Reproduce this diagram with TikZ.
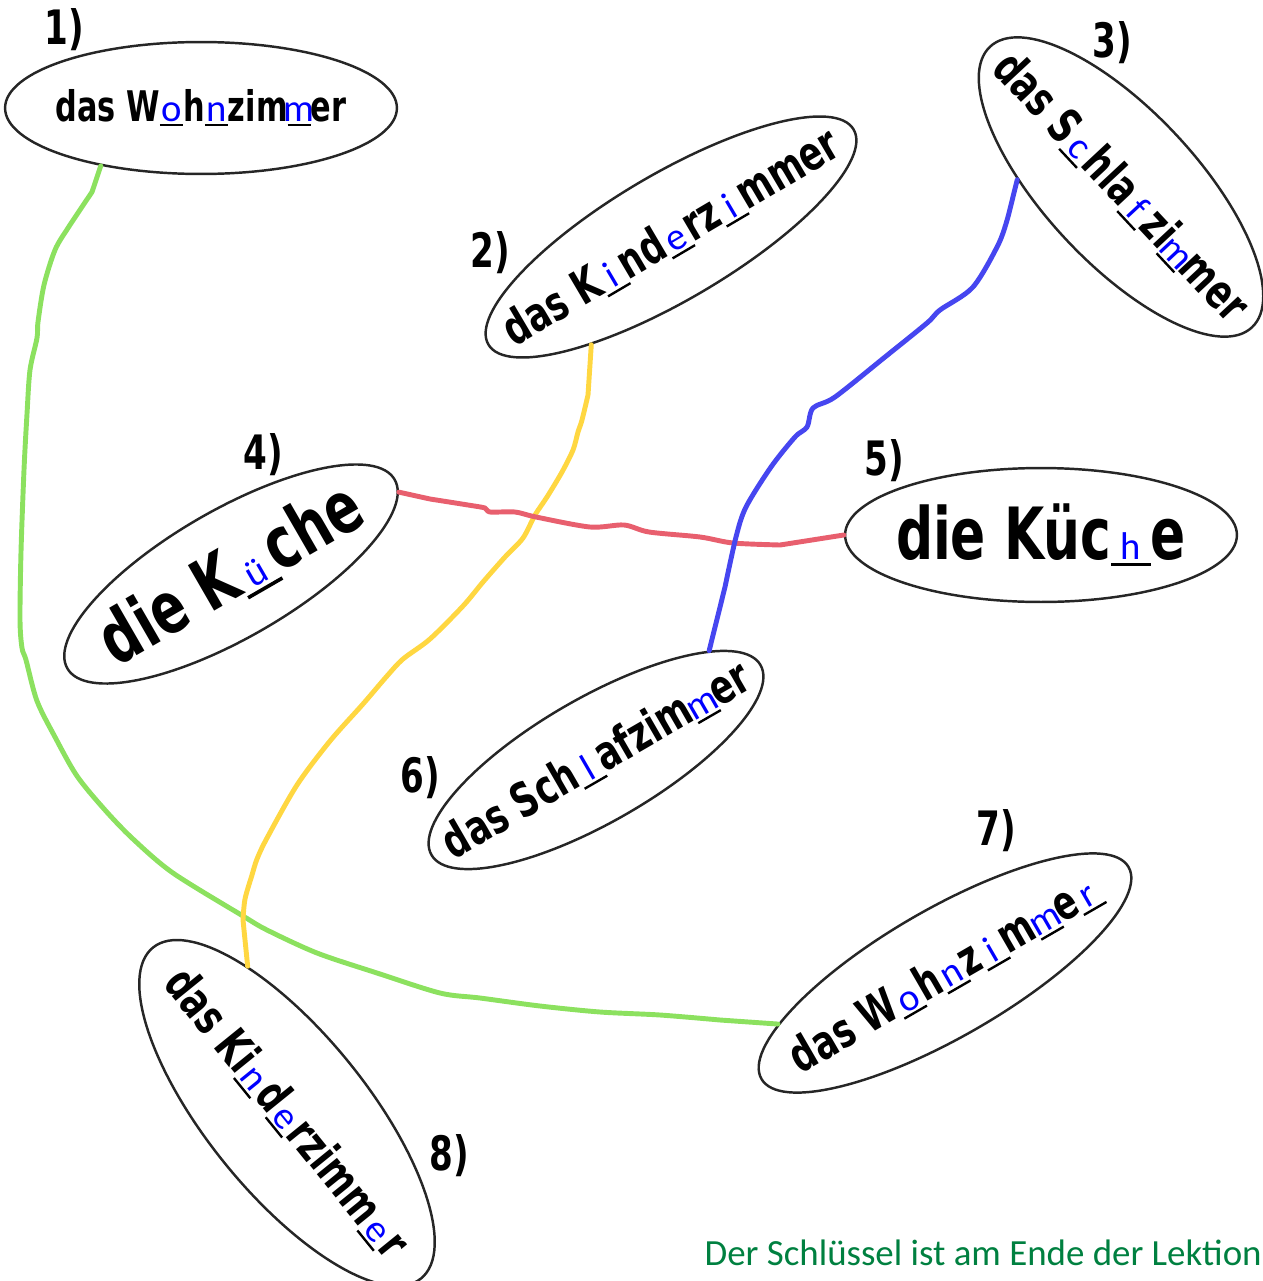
\documentclass[tikz,border=0pt]{standalone}
\usepackage{fontspec}
\newfontfamily\marker{DejaVu Sans}[FakeStretch=0.72]
\newfontfamily\carlito{Carlito}
\usetikzlibrary{shapes.geometric}
\definecolor{inkblue}{RGB}{0,0,255}
\definecolor{keygreen}{RGB}{0,128,64}
\definecolor{lgreen}{RGB}{140,225,95}
\definecolor{lyellow}{RGB}{255,215,65}
\definecolor{lred}{RGB}{232,95,110}
\definecolor{lblue}{RGB}{70,70,240}
% blank with the answer letter on it
\newcommand\gap[1]{\rlap{\rule[-0.1em]{0.55em}{0.05em}}\makebox[0.55em]{\carlito\mdseries\fontsize{22}{22}\selectfont\color{inkblue}#1}}
\newcommand\wort[1]{\makebox[0pt]{#1}}
\tikzset{
  oval/.style 2 args={ellipse, draw=black!85, line width=1.4pt, inner sep=0pt,
    minimum width=#1*0.04cm, minimum height=#2*0.04cm},
  word/.style={font=\marker\bfseries\fontsize{#1}{#1}\selectfont},
  word/.default=27,
  num/.style={font=\marker\bfseries\fontsize{27}{27}\selectfont, inner sep=0pt},
  link/.style={line width=2.8pt, line cap=round, line join=round},
  key/.style={font=\carlito\fontsize{21}{21}\selectfont, text=keygreen, inner sep=0pt},
}
\begin{document}
\begin{tikzpicture}[x=0.02cm,y=-0.02cm]
  \useasboundingbox (0,0) rectangle (1263,1281);
  % words
  \node[oval={196}{66}, word=24] (e1) at (201,108) {\wort{das W\gap{o}h\gap{n}zim\gap{m}er}};
  \node[oval={212}{63}, word, rotate=30.5] (e2) at (671,237) {\wort{das K\gap{i}nd\gap{e}rz\gap{i}mmer}};
  \node[oval={192}{76}, word, rotate=-47] (e3) at (1121,187) {\wort{das S\gap{c}hla\gap{f}zi\gap{m}mer}};
  \node[oval={189}{64}, word=41, rotate=30] (e4) at (231,574) {\wort{die K\gap{ü}che}};
  \node[oval={196}{67}, word=41] (e5) at (1041,535) {\wort{die Küc\gap{h}e}};
  \node[oval={190}{62}, word, rotate=30] (e6) at (596,760) {\wort{das Sch\gap{l}afzim\gap{m}er}};
  \node[oval={212}{64}, word, rotate=30] (e7) at (945,973) {\wort{das W\gap{o}h\gap{n}z\gap{i}m\gap{m}e\gap{r}}};
  \node[oval={213}{80}, word, rotate=-51] (e8) at (287,1113) {\wort{das Ki\gap{n}d\gap{e}rzimm\gap{e}r}};
  % numbers
  \foreach \n/\lx/\ly in {1/64/30, 2/490/253, 3/1112/43, 4/263/455,
                          5/884/461, 6/420/778, 7/996/831, 8/449/1156}
    \node[num] (n\n) at (\lx,\ly) {\n)};
  % pairs
  \draw[link, lgreen] (e1.210) -- plot[smooth, tension=0.5] coordinates {
    (92,192) (68,228) (55,250) (44,285) (38,322) (37,338) (30,370) (27,414)
    (24,470) (21,552) (20,620) (22,648) (26,660) (37,701) (55,737) (77,776)
    (105,810) (133,839) (173,873) (243,916) (267,930) (317,953) (377,973)
    (440,993) (480,998) (540,1006) (600,1012) (660,1015) (720,1020)} -- (e7.167);
  \draw[link, lyellow] (e2.203) -- plot[smooth, tension=0.5] coordinates {
    (588,395) (582,420) (578,432) (573,450) (562,472) (547,497) (535,515)
    (523,538) (505,557) (483,582) (463,606) (430,639) (403,659) (387,676)
    (363,704) (330,741) (297,785) (267,838) (257,859) (252,875) (245,899)
    (243,920)} -- (e8.156);
  \draw[link, lred] (e4.-4) -- plot[smooth, tension=0.5] coordinates {
    (430,499) (468,505) (485,508) (490,512) (515,512) (536,517) (590,527)
    (624,525) (649,532) (700,537) (733,543) (780,545)} -- (e5.180);
  \draw[link, lblue] (e3.223) -- plot[smooth, tension=0.5] coordinates {
    (1009,213) (999,243) (973,287) (940,310) (927,323) (885,357) (835,397)
    (813,408) (807,427) (795,437) (771,467) (746,507) (736,537)
    (725,587)} -- (e6.14);
  % note
  \node[key, anchor=base east] (note) at (1262,1265) {Der Schlüssel ist am Ende der Lektion};
\end{tikzpicture}
\end{document}
